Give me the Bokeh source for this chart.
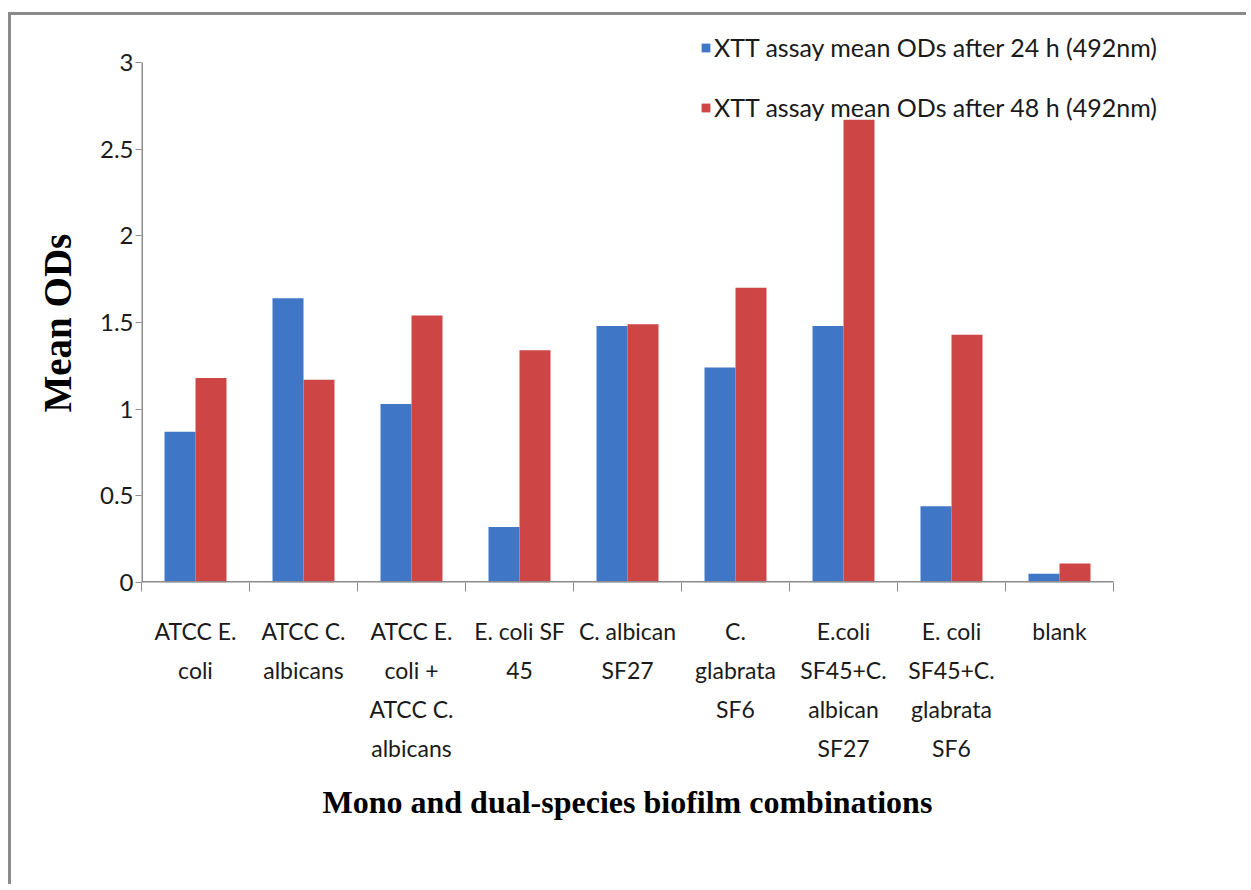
from bokeh.plotting import figure
from bokeh.models import (ColumnDataSource, Range1d, FixedTicker, Legend, LegendItem, Title)
from bokeh.transform import dodge
from bokeh.embed import file_html
from bokeh.resources import INLINE

# Biofilm combinations (tick labels, wrapped as on the axis)
categories = [
    "ATCC E.\ncoli",
    "ATCC C.\nalbicans",
    "ATCC E.\ncoli +\nATCC C.\nalbicans",
    "E. coli SF\n45",
    "C. albican\nSF27",
    "C.\nglabrata\nSF6",
    "E.coli\nSF45+C.\nalbican\nSF27",
    "E. coli\nSF45+C.\nglabrata\nSF6",
    "blank",
]

# XTT assay mean ODs (492 nm)
od_24h = [0.87, 1.64, 1.03, 0.32, 1.48, 1.24, 1.48, 0.44, 0.05]
od_48h = [1.18, 1.17, 1.54, 1.34, 1.49, 1.70, 2.67, 1.43, 0.11]

series_names = [
    "XTT assay mean ODs after 24 h (492nm)",
    "XTT assay mean ODs after 48 h (492nm)",
]

y_ticks = [0, 0.5, 1, 1.5, 2, 2.5, 3]

BLUE = "#3f76c6"
RED = "#cd4545"
AXIS_GREY = "#8c8c8c"
TEXT = "#1a1a1a"
SANS = "Lato"
SERIF = "Liberation Serif"

n = len(categories)
centers = [i + 0.5 for i in range(n)]
edges = [float(i) for i in range(n + 1)]

# The plotting frame reaches above the top tick and past the last category so
# the legend (which sits there) is not clipped; the axis lines themselves are
# drawn only over the data extent.
W, H = 1238, 872
FRAME_L, FRAME_T, FRAME_R, FRAME_B = 130, 5, 1189, 567
PX_PER_CAT = 108.0
AXIS_SPAN_PX = 520.0          # pixel height of the 0..3 span
x_end = (FRAME_R - FRAME_L) / PX_PER_CAT
y_end = y_ticks[-1] * (FRAME_B - FRAME_T) / AXIS_SPAN_PX

source = ColumnDataSource(dict(x=centers, od24=od_24h, od48=od_48h))

p = figure(
    width=W, height=H,
    x_range=Range1d(0, x_end), y_range=Range1d(0, y_end),
    output_backend="svg", toolbar_location=None,
    min_border_left=FRAME_L, min_border_top=FRAME_T,
    min_border_right=W - FRAME_R, min_border_bottom=H - FRAME_B,
)
p.margin = (12, 0, 0, 8)
p.styles = {"border-left": "3px solid #8a8a8a", "border-top": "3px solid #8a8a8a"}
p.outline_line_color = None
p.xgrid.visible = False
p.ygrid.visible = False
p.background_fill_color = "white"
p.border_fill_color = "white"

bw = 0.287
r24 = p.vbar(x=dodge("x", -bw / 2, range=p.x_range), top="od24", width=bw,
             source=source, fill_color=BLUE, line_color=None)
r48 = p.vbar(x=dodge("x", bw / 2, range=p.x_range), top="od48", width=bw,
             source=source, fill_color=RED, line_color=None)

# axis lines over the data extent only (half of each is clipped at the frame edge)
p.segment(x0=[0, 0], y0=[0, 0], x1=[n, 0], y1=[0, y_ticks[-1]],
          line_color=AXIS_GREY, line_width=3)

# x axis: category labels at centres, boundary ticks as minor ticks
xa = p.xaxis[0]
xa.ticker = FixedTicker(ticks=centers, minor_ticks=edges)
xa.major_label_overrides = {c: lab for c, lab in zip(centers, categories)}
xa.major_tick_line_color = None
xa.minor_tick_line_color = AXIS_GREY
xa.minor_tick_out = 9
xa.minor_tick_in = 0
xa.axis_line_color = None
xa.major_label_text_font = SANS
xa.major_label_text_font_size = "23px"
xa.major_label_text_color = TEXT
xa.major_label_text_line_height = 1.4
xa.major_label_standoff = 25

ya = p.yaxis[0]
ya.ticker = FixedTicker(ticks=y_ticks)
ya.minor_tick_line_color = None
ya.major_tick_line_color = AXIS_GREY
ya.major_tick_out = 6
ya.major_tick_in = 0
ya.axis_line_color = None
ya.major_label_text_font = SANS
ya.major_label_text_font_size = "24px"
ya.major_label_text_color = TEXT
ya.major_label_standoff = 2

# axis titles placed over the data extent rather than the whole frame
xtitle = Title(text="Mono and dual-species biofilm combinations", align="left",
               offset=181,
               text_font=SERIF, text_font_style="bold", text_font_size="32px",
               text_color="black", standoff=32)
p.add_layout(xtitle, "below")

ytitle = Title(text="Mean ODs", align="left",
               offset=170,
               text_font=SERIF, text_font_style="bold", text_font_size="39px",
               text_color="black", standoff=35)
p.add_layout(ytitle, "left")

legend = Legend(
    items=[LegendItem(label=series_names[0], renderers=[r24]),
           LegendItem(label=series_names[1], renderers=[r48])],
    location=(559, 460),
    orientation="vertical",
    border_line_color=None,
    background_fill_alpha=0,
    padding=0, margin=0,
    glyph_width=11, glyph_height=11,
    label_standoff=3,
    spacing=30,
    label_text_font=SANS,
    label_text_font_size="25px",
    label_text_color=TEXT,
)
p.add_layout(legend, "center")

open("out.html", "w").write(file_html(p, INLINE))
